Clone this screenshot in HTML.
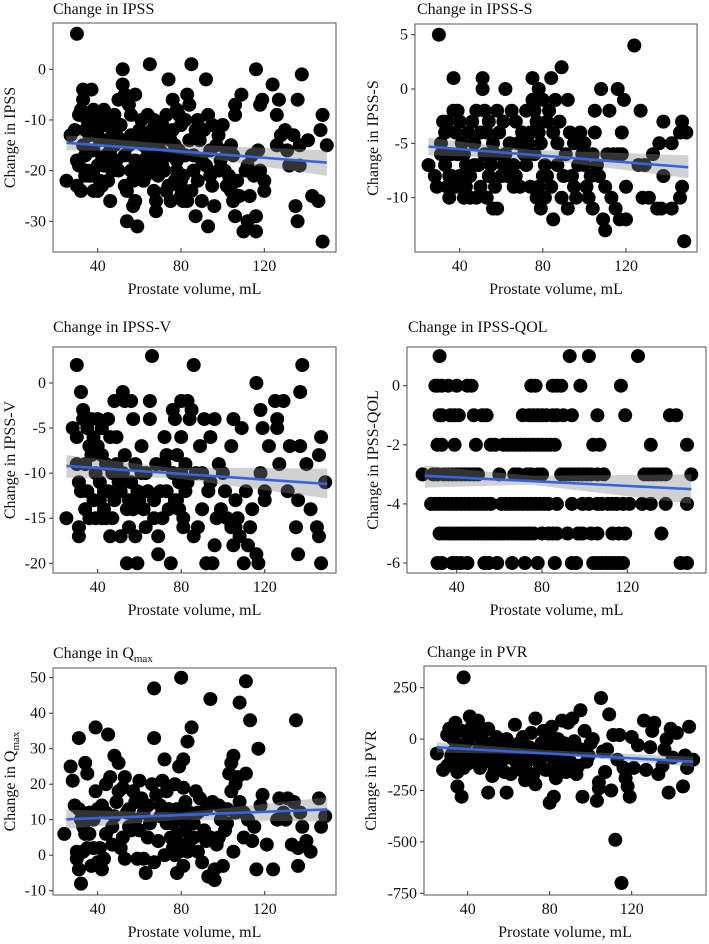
<!DOCTYPE html>
<html><head><meta charset="utf-8">
<style>
html,body{margin:0;padding:0;background:#fff;}
svg{display:block;font-family:"Liberation Serif",serif;}
</style></head>
<body>
<svg id="chart" width="709" height="944" viewBox="0 0 709 944"></svg>
<script>
// ---------- data ----------
const xTicks = [40, 80, 120];

const ipssPoints = [[30,7],[25,-22],[27,-13],[29,-12],[30,-18],[31,-19],[30,-23],[32,-24],[33,-4],[33,-6],[32,-8],[34,-12],[35,-10],[36,-11],[36,-13],[35,-16],[35,-20],[36,-21],[37,-21],[37,-4],[38,-8],[39,-10],[40,-12],[38,-24],[40,-24],[42,-23],[42,-9],[43,-8],[44,-11],[45,-10],[41,-14],[42,-18],[43,-19],[44,-17],[45,-22],[46,-26],[47,-12],[48,-15],[48,-9],[49,-18],[50,-20],[50,-6],[51,-11],[52,-14],[52,0],[52,-3],[53,-5],[54,-24],[53,-23],[54,-30],[55,-7],[56,-13],[56,-20],[57,-27],[58,-26],[58,-18],[58,-5],[59,-31],[60,-12],[61,-10],[62,-15],[62,-22],[63,-21],[64,-9],[65,1],[66,-12],[66,-19],[67,-24],[68,-26],[68,-28],[69,-21],[70,-16],[71,-11],[72,-13],[72,-20],[73,-9],[74,-2],[75,-26],[76,-6],[76,-12],[77,-15],[78,-8],[78,-18],[79,-23],[80,-25],[80,-11],[81,-21],[82,-10],[82,-17],[83,-5],[84,-7],[84,-14],[85,1],[86,-17],[87,-29],[88,-10],[89,-14],[90,-26],[92,-2],[92,-19],[93,-31],[93,-9],[95,-11],[95,-23],[96,-27],[97,-15],[98,-13],[100,-11],[101,-20],[102,-16],[104,-24],[104,-15],[105,-26],[106,-9],[106,-7],[106,-29],[108,-25],[109,-5],[110,-32],[111,-20],[112,-30],[113,-25],[114,-17],[115,-21],[116,-29],[116,-32],[116,0],[117,-16],[118,-7],[119,-6],[120,-22],[120,-24],[124,-3],[126,-15],[127,-6],[126,-9],[130,-12],[131,-16],[132,-19],[134,-13],[135,-27],[136,-30],[136,-6],[137,-15],[138,-1],[137,-19],[141,-14],[143,-25],[146,-26],[147,-12],[148,-9],[148,-34],[150,-15],[33,-15],[34,-17],[38,-16],[40,-19],[44,-14],[46,-16],[55,-15],[58,-14],[64,-16],[66,-14],[70,-14],[74,-17],[78,-20],[80,-22],[82,-24],[86,-20],[90,-18],[94,-21],[98,-20],[102,-23],[56,-9],[62,-18],[68,-18],[74,-23],[46,-19],[38,-20],[83,-26],[79,-16],[87,-12],[31,-9],[34,-21],[39,-13],[41,-22],[47,-20],[49,-13],[53,-17],[57,-22],[60,-20],[63,-13],[67,-10],[71,-19],[73,-24],[75,-14],[77,-22],[79,-9],[81,-26],[85,-24],[88,-22],[91,-12],[94,-16],[99,-18],[103,-21],[105,-17],[107,-22],[112,-19],[118,-20],[128,-13]];
const ipssTicks = [0,-10,-20,-30];
const ipssFitX = [25,150];
const ipssFitY = [-14.5,-18.4];
const ipssBandX = [25,70,150];
const ipssBandLo = [-16,-16.2,-21];
const ipssBandHi = [-13,-14.6,-16];

const ipssSPoints = [[25,-7],[28,-8],[29,-9],[30,5],[31,-5],[31,-6],[32,-3],[33,-4],[33,-7],[34,-9],[34,-3],[35,-10],[35,-8],[36,-6],[37,-2],[37,1],[38,-4],[38,-9],[39,-2],[40,-3],[40,-8],[41,-5],[42,-6],[42,-10],[43,-7],[43,-9],[44,-4],[45,-8],[45,-10],[46,-3],[47,-5],[48,-10],[48,-2],[49,-7],[50,-9],[50,-4],[51,0],[51,1],[52,-2],[52,-6],[53,-10],[54,-8],[54,-3],[55,-7],[56,-11],[56,-5],[57,-9],[58,-11],[58,-2],[59,-4],[60,-8],[61,-3],[62,0],[62,-6],[63,-8],[64,-5],[65,-2],[66,-7],[66,-9],[67,-3],[68,-5],[69,-9],[70,-4],[71,-6],[72,-2],[73,-5],[74,-4],[75,1],[75,-1],[76,-2],[76,-6],[77,-10],[77,-3],[78,0],[78,-9],[79,-11],[79,-5],[80,-1],[80,-8],[81,-10],[81,-7],[82,-3],[83,-2],[84,-9],[84,1],[85,-4],[85,-12],[86,-1],[87,-7],[88,-3],[89,2],[89,-10],[91,-6],[92,-1],[92,-11],[93,-4],[94,-8],[95,-9],[95,-5],[96,-10],[97,-7],[98,-4],[99,-6],[100,-5],[101,-9],[102,-10],[103,-8],[104,-11],[105,-2],[105,-4],[106,-7],[107,-8],[108,0],[109,-12],[110,-13],[110,-9],[111,-6],[112,-2],[113,-10],[114,-6],[115,-11],[116,0],[117,-12],[118,-6],[118,-4],[119,-1],[120,-9],[120,-12],[124,4],[126,-7],[127,-2],[128,-10],[129,-7],[131,-10],[133,-6],[135,-11],[136,-5],[137,-11],[138,-3],[138,-8],[142,-11],[142,-5],[146,-4],[146,-10],[147,-3],[147,-9],[148,-14],[149,-4],[32,-6],[36,-8],[39,-6],[44,-8],[47,-7],[53,-4],[57,-6],[61,-7],[67,-8],[72,-7],[74,-9],[78,-4],[82,-8],[87,-5],[90,-8],[100,-7],[104,-6],[116,-6]];
const ipssSTicks = [5,0,-5,-10];
const ipssSFitX = [25,150];
const ipssSFitY = [-5.3,-7.2];
const ipssSBandX = [25,75,150];
const ipssSBandLo = [-6.1,-6.4,-8.2];
const ipssSBandHi = [-4.5,-5.6,-6.1];

const ipssVPoints = [[25,-15],[28,-5],[30,2],[30,-6],[30,-9],[31,-11],[31,-16],[31,-17],[32,-12],[32,-1],[33,-3],[33,-4],[34,-9],[34,-14],[35,-5],[36,-7],[36,-15],[37,-4],[37,-8],[38,-6],[39,-10],[39,-15],[40,-4],[40,-7],[41,-13],[41,-11],[42,-5],[42,-8],[43,-12],[43,-14],[44,-9],[44,-15],[45,-4],[46,-6],[46,-17],[47,-10],[48,-13],[48,-2],[49,-6],[49,-9],[50,-11],[51,-12],[51,-17],[52,-1],[53,-2],[53,-8],[54,-20],[55,-16],[55,-13],[56,-11],[56,-2],[57,-14],[57,-4],[58,-9],[58,-17],[59,-20],[60,-13],[61,-7],[61,-10],[62,-14],[63,-16],[64,-12],[65,-2],[65,-4],[66,3],[67,-13],[67,-15],[68,-9],[69,-17],[69,-19],[70,-12],[71,-15],[72,-6],[72,-9],[73,-8],[74,-14],[75,-20],[76,-3],[76,-10],[77,-4],[78,-8],[78,-13],[79,-11],[79,-14],[80,-2],[80,-6],[81,-15],[81,-16],[82,-9],[82,-12],[83,-2],[84,-4],[85,-3],[86,2],[86,-17],[87,-10],[88,-16],[89,-7],[90,-14],[91,-4],[92,-20],[93,-12],[94,-6],[94,-11],[95,-20],[96,-18],[96,-4],[97,-15],[98,-9],[99,-14],[100,-10],[101,-12],[104,-7],[104,-16],[105,-4],[105,-18],[106,-13],[107,-15],[108,-17],[109,-5],[110,-20],[111,-12],[112,-18],[113,-16],[114,-14],[116,-19],[116,0],[117,-20],[118,-10],[118,-3],[119,-5],[120,-12],[120,-13],[122,-7],[125,-2],[126,-4],[126,-5],[127,-9],[129,-2],[131,-12],[132,-7],[135,-16],[136,-19],[136,-13],[137,-1],[137,-7],[138,2],[140,-9],[142,-14],[145,-16],[146,-8],[146,-17],[147,-6],[147,-20],[149,-11],[35,-12],[38,-13],[42,-15],[45,-12],[47,-15],[52,-10],[54,-14],[59,-12],[63,-10],[71,-9],[73,-12],[77,-13],[80,-10],[83,-11],[90,-10],[102,-15],[106,-16]];
const ipssVTicks = [0,-5,-10,-15,-20];
const ipssVFitX = [25,150];
const ipssVFitY = [-9.2,-11.2];
const ipssVBandX = [25,75,150];
const ipssVBandLo = [-10.5,-10.5,-12.8];
const ipssVBandHi = [-8,-9.4,-9.5];

const qolLevels = [1,0,-1,-2,-3,-4,-5,-6];
const qolVolumes = [
 [32,93,102,125],
 [30,31,33,36,40,45,47,75,77,85,87,89,98,117],
 [32,33,37,39,41,48,52,54,71,74,76,78,80,82,85,87,90,94,106,119,140,143],
 [31,33,39,49,56,58,62,64,66,68,70,72,74,76,78,80,82,84,86,104,107,131,148],
 [24,29,31,34,36,38,40,42,44,46,48,50,60,67,69,73,75,78,80,89,91,93,95,97,99,101,103,106,109,128,130,132,134,136,138,150],
 [28,30,32,34,36,38,40,42,44,46,48,50,52,54,56,61,63,65,67,69,71,73,75,77,79,81,83,87,94,99,102,106,108,111,113,115,118,121,127,131,138,148],
 [32,34,36,38,40,42,44,46,48,50,52,54,56,58,60,62,64,66,68,70,72,74,76,80,83,85,87,92,97,99,103,106,113,116,119,136],
 [31,33,38,40,42,45,53,55,59,66,72,78,86,94,96,104,106,108,110,112,114,116,118,145,148]
];
const qolTicks = [0,-2,-4,-6];
const qolFitX = [25,150];
const qolFitY = [-3.05,-3.5];
const qolBandX = [25,75,150];
const qolBandLo = [-3.45,-3.35,-4];
const qolBandHi = [-2.7,-3.05,-3];

const qmaxPoints = [[24,6],[27,25],[28,21],[29,14],[30,1],[30,-1],[31,-4],[31,33],[32,-8],[32,10],[33,8],[34,26],[34,6],[35,23],[35,2],[36,12],[37,-3],[38,2],[38,10],[39,36],[39,18],[40,13],[41,2],[42,14],[42,-4],[43,-1],[44,20],[44,6],[45,34],[46,22],[47,3],[48,11],[48,28],[49,15],[50,26],[51,2],[52,19],[52,5],[53,22],[53,-1],[54,12],[55,8],[56,7],[57,18],[58,10],[59,-1],[60,21],[61,16],[62,12],[62,-1],[63,-5],[64,14],[65,9],[66,20],[67,47],[67,33],[67,-2],[68,17],[69,4],[70,11],[71,21],[72,27],[72,0],[73,9],[74,13],[75,5],[76,2],[77,0],[77,20],[78,-5],[78,6],[79,25],[80,50],[80,10],[80,3],[81,27],[81,-3],[82,15],[82,7],[83,32],[83,1],[84,12],[85,36],[86,5],[87,18],[88,1],[89,16],[90,-2],[91,7],[92,4],[93,-6],[94,44],[94,5],[95,15],[96,-7],[96,-4],[97,3],[98,14],[99,10],[100,-3],[101,7],[102,9],[103,23],[104,26],[104,18],[105,28],[105,1],[106,12],[107,22],[108,43],[108,15],[110,5],[111,49],[111,23],[112,10],[113,38],[114,4],[115,8],[116,-4],[117,30],[118,14],[119,17],[121,3],[124,-4],[126,10],[127,16],[129,12],[131,16],[133,3],[134,15],[135,38],[136,2],[136,-3],[137,12],[138,8],[140,4],[142,1],[146,16],[147,8],[149,11],[31,13],[33,1],[36,6],[40,-2],[44,12],[47,8],[50,18],[55,13],[58,15],[60,7],[64,5],[70,14],[73,18],[76,9],[78,13],[79,1],[81,19],[84,4],[86,9],[88,12],[92,13],[98,5],[102,13],[106,20],[110,12],[130,10]];
const qmaxTicks = [50,40,30,20,10,0,-10];
const qmaxFitX = [25,150];
const qmaxFitY = [10.1,12.9];
const qmaxBandX = [25,80,150];
const qmaxBandLo = [7.5,10,9.5];
const qmaxBandHi = [12.8,12,16.3];

const pvrPoints = [[25,-70],[28,-150],[30,-130],[30,20],[31,50],[32,-80],[32,-100],[33,0],[34,-120],[34,80],[35,-230],[35,-160],[36,-30],[37,-280],[37,40],[38,-140],[38,300],[39,-60],[40,-10],[41,110],[42,-100],[42,60],[43,20],[44,-80],[45,90],[46,-140],[46,-40],[47,0],[48,40],[49,-60],[50,-260],[50,50],[51,-110],[52,-180],[52,-20],[53,-150],[54,10],[55,-70],[56,-120],[57,-30],[58,-160],[59,-260],[59,0],[60,-90],[61,-170],[62,-50],[63,70],[64,-120],[65,-20],[66,-150],[67,10],[68,-200],[69,-60],[70,-100],[71,30],[72,-170],[73,-220],[73,100],[74,-50],[75,-120],[76,-20],[77,40],[78,-80],[79,20],[80,-310],[80,-150],[81,-40],[81,60],[82,-280],[82,-100],[83,-190],[84,0],[85,-60],[86,90],[87,-20],[88,-90],[89,80],[90,-50],[91,100],[92,-10],[93,-170],[94,-130],[95,-50],[95,140],[96,-280],[97,40],[98,-110],[99,-80],[100,-20],[101,0],[103,-300],[104,-210],[104,-240],[105,200],[106,-60],[107,-160],[108,-50],[109,120],[110,-250],[111,20],[112,-490],[113,-100],[114,20],[115,-700],[116,-140],[117,-190],[118,-230],[119,-280],[120,10],[121,-140],[123,-30],[126,90],[127,-150],[129,-40],[130,40],[131,80],[133,-170],[135,-130],[136,-50],[137,0],[138,-260],[139,50],[140,-90],[142,30],[145,-230],[146,-80],[147,-140],[148,60],[150,-100],[33,-60],[40,-120],[45,-60],[55,-40],[60,-30],[65,-80],[70,-40],[75,-60],[85,-130],[90,-110],[36,-90],[48,-100],[68,-130],[78,-150],[88,-160]];
const pvrTicks = [250,0,-250,-500,-750];
const pvrFitX = [25,150];
const pvrFitY = [-40,-110];
const pvrBandX = [25,80,150];
const pvrBandLo = [-65,-75,-135];
const pvrBandHi = [-15,-55,-85];

// ---------- rendering ----------
const NS = "http://www.w3.org/2000/svg";
const svg = document.getElementById('chart');
function el(tag, attrs, parent){
  const e = document.createElementNS(NS, tag);
  for (const k in attrs) e.setAttribute(k, attrs[k]);
  (parent||svg).appendChild(e);
  return e;
}
function linMap(v1,p1,v2,p2){ const b=(p2-p1)/(v2-v1); return v => p1 + (v-v1)*b; }

function panel(cfg){
  const g = el('g', {});
  
  
  const X = linMap(40, cfg.x40, 120, cfg.x120);
  const Y = linMap(cfg.yv1, cfg.yp1, cfg.yv2, cfg.yp2);
  const [x0,y0,x1,y1] = cfg.box;

  const t = el('text', {x:cfg.titleX, y:cfg.titleY, 'font-size':16, fill:'#111'}, g);
  
  
  t.textContent = cfg.title;
  if (cfg.sub){ const s = el('tspan', {'font-size':11, dy:4}, t); s.textContent = cfg.sub; }

  const pg = el('g', {fill:'#000'}, g);
  
  
  cfg.points.forEach(p => {
    const c = el('circle', {cx:X(p[0]).toFixed(1), cy:Y(p[1]).toFixed(1), r:7}, pg);
    
    
  });

  let d = '';
  cfg.bandX.forEach((bx,i)=>{ d += (i?'L':'M') + X(bx).toFixed(1) + ',' + Y(cfg.bandHi[i]).toFixed(1); });
  for (let i=cfg.bandX.length-1;i>=0;i--) d += 'L' + X(cfg.bandX[i]).toFixed(1) + ',' + Y(cfg.bandLo[i]).toFixed(1);
  const band = el('path', {d:d+'Z', fill:'rgb(133,133,133)', 'fill-opacity':0.38}, g);
  
  
  const ln = el('line', {x1:X(cfg.fitX[0]), y1:Y(cfg.fitY[0]), x2:X(cfg.fitX[1]), y2:Y(cfg.fitY[1]), stroke:'#3465e0', 'stroke-width':2.6}, g);
  
  

  const fr = el('rect', {x:x0, y:y0, width:x1-x0, height:y1-y0, fill:'none', stroke:'#555', 'stroke-width':1}, g);
  
  

  xTicks.forEach(v => {
    el('line', {x1:X(v), x2:X(v), y1:y1-4, y2:y1, stroke:'#333'}, g);
    const tl = el('text', {x:X(v), y:y1+19, 'font-size':16, 'text-anchor':'middle', fill:'#111'}, g);
    
    
    tl.textContent = v;
  });
  cfg.yTicks.forEach(v => {
    el('line', {x1:x0-4, x2:x0, y1:Y(v), y2:Y(v), stroke:'#333'}, g);
    const tl = el('text', {x:x0-7, y:Y(v)+5, 'font-size':16, 'text-anchor':'end', fill:'#111'}, g);
    
    
    tl.textContent = v;
  });
  const xt = el('text', {x:(x0+x1)/2, y:y1+42, 'font-size':16, 'text-anchor':'middle', fill:'#111'}, g);
  
  
  xt.textContent = 'Prostate volume, mL';
  const cy = (y0+y1)/2;
  const yt = el('text', {x:cfg.ylabX, y:cy, 'font-size':16, 'text-anchor':'middle', fill:'#111', transform:'rotate(-90 '+cfg.ylabX+' '+cy+')'}, g);
  
  
  yt.textContent = cfg.ylab;
  if (cfg.sub){ const s = el('tspan', {'font-size':11, dy:4}, yt); s.textContent = cfg.sub; }
}

const qolPoints = [];
qolLevels.forEach((lv,i)=> qolVolumes[i].forEach(v => qolPoints.push([v,lv])));

panel({name:'ipss', title:'Change in IPSS', ylab:'Change in IPSS', titleX:53, titleY:14, ylabX:15,
  box:[53,23,336,252], x40:97.7, x120:264.3, yv1:0, yp1:69.3, yv2:-30, yp2:221.3,
  points:ipssPoints, yTicks:ipssTicks, fitX:ipssFitX, fitY:ipssFitY, bandX:ipssBandX, bandLo:ipssBandLo, bandHi:ipssBandHi});
panel({name:'ipss-s', title:'Change in IPSS-S', ylab:'Change in IPSS-S', titleX:417, titleY:14, ylabX:378,
  box:[415,24,697,252], x40:459.7, x120:626, yv1:0, yp1:89, yv2:-10, yp2:197.7,
  points:ipssSPoints, yTicks:ipssSTicks, fitX:ipssSFitX, fitY:ipssSFitY, bandX:ipssSBandX, bandLo:ipssSBandLo, bandHi:ipssSBandHi});
panel({name:'ipss-v', title:'Change in IPSS-V', ylab:'Change in IPSS-V', titleX:53, titleY:332, ylabX:15,
  box:[53,347,336,573], x40:97.7, x120:264.7, yv1:0, yp1:383, yv2:-20, yp2:563.3,
  points:ipssVPoints, yTicks:ipssVTicks, fitX:ipssVFitX, fitY:ipssVFitY, bandX:ipssVBandX, bandLo:ipssVBandLo, bandHi:ipssVBandHi});
panel({name:'ipss-qol', title:'Change in IPSS-QOL', ylab:'Change in  IPSS-QOL', titleX:408, titleY:332, ylabX:378,
  box:[407,347,706,573], x40:456.7, x120:627.3, yv1:0, yp1:385.7, yv2:-6, yp2:563,
  points:qolPoints, yTicks:qolTicks, fitX:qolFitX, fitY:qolFitY, bandX:qolBandX, bandLo:qolBandLo, bandHi:qolBandHi});
panel({name:'qmax', title:'Change in Q', sub:'max', ylab:'Change in Q', titleX:53, titleY:658, ylabX:15,
  box:[53,668,336,895], x40:97.7, x120:264.7, yv1:50, yp1:677.7, yv2:-10, yp2:890.7,
  points:qmaxPoints, yTicks:qmaxTicks, fitX:qmaxFitX, fitY:qmaxFitY, bandX:qmaxBandX, bandLo:qmaxBandLo, bandHi:qmaxBandHi});
panel({name:'pvr', title:'Change in PVR', ylab:'Change in PVR', titleX:427, titleY:657, ylabX:376,
  box:[424,666,706,895], x40:467.7, x120:631.7, yv1:250, yp1:687.7, yv2:-750, yp2:893.3,
  points:pvrPoints, yTicks:pvrTicks, fitX:pvrFitX, fitY:pvrFitY, bandX:pvrBandX, bandLo:pvrBandLo, bandHi:pvrBandHi});
</script>
</body></html>
